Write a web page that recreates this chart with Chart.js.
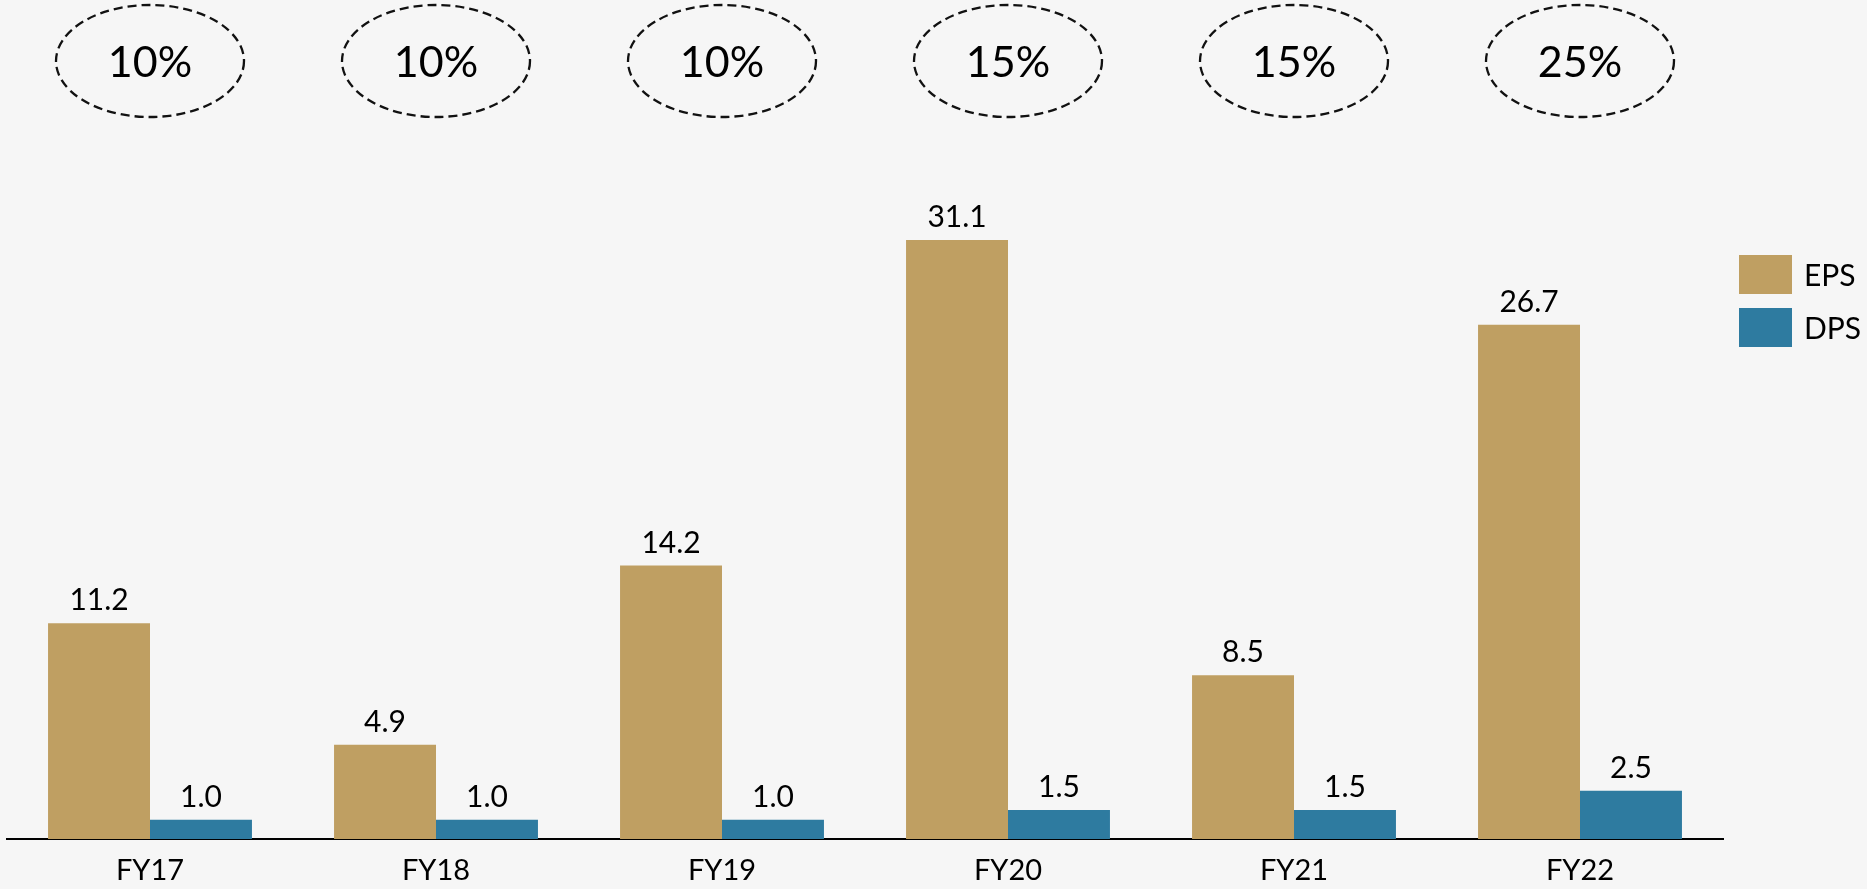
<!DOCTYPE html>
<html>
<head>
<meta charset="utf-8">
<title>EPS / DPS</title>
<script src="https://cdn.jsdelivr.net/npm/chart.js@4.4.1/dist/chart.umd.min.js"></script>
<style>
  html, body { margin: 0; padding: 0; background: #f6f6f6; }
  canvas { display: block; }
</style>
</head>
<body>
<canvas id="grafico" width="1867" height="889"></canvas>
<script>
const anni = ['FY17', 'FY18', 'FY19', 'FY20', 'FY21', 'FY22'];
const eps = [11.2, 4.9, 14.2, 31.1, 8.5, 26.7];
const dps = [1.0, 1.0, 1.0, 1.5, 1.5, 2.5];
const payout = [10, 10, 10, 15, 15, 25]; // dividendo in % (ellissi in alto)

const coloreEps = '#bf9f62';
const coloreDps = '#2e7ba0';
const font = 'Lato, "Open Sans", sans-serif';

// valori sopra le barre
const etichetteBarre = {
    id: 'etichetteBarre',
    afterDatasetsDraw(chart) {
        const { ctx } = chart;
        ctx.save();
        ctx.font = '30px ' + font;
        ctx.fillStyle = '#000';
        ctx.textAlign = 'center';
        ctx.textBaseline = 'alphabetic';
        chart.data.datasets.forEach((ds, i) => {
            chart.getDatasetMeta(i).data.forEach((bar, j) => {
                ctx.fillText(ds.data[j].toFixed(1), bar.x, bar.y - 13);
            });
        });
        ctx.restore();
    }
};

// ellissi tratteggiate con la percentuale, centrate sulla categoria
const ellissi = {
    id: 'ellissi',
    afterDraw(chart) {
        const { ctx } = chart;
        const x = chart.scales.x;
        ctx.save();
        payout.forEach((p, i) => {
            const cx = x.getPixelForValue(i);
            const cy = 61;
            ctx.beginPath();
            ctx.setLineDash([9, 5]);
            ctx.lineWidth = 2.3;
            ctx.strokeStyle = '#111';
            ctx.ellipse(cx, cy, 94, 56, 0, 0, Math.PI * 2);
            ctx.stroke();
            ctx.setLineDash([]);
            ctx.font = '43px ' + font;
            ctx.fillStyle = '#000';
            ctx.textAlign = 'center';
            ctx.textBaseline = 'alphabetic';
            ctx.fillText(p + '%', cx, cy + 16);
        });
        ctx.restore();
    }
};

// legenda a destra
const legenda = {
    id: 'legenda',
    afterDraw(chart) {
        const { ctx } = chart;
        ctx.save();
        ctx.font = '30px ' + font;
        ctx.textBaseline = 'middle';
        ctx.textAlign = 'left';
        chart.data.datasets.forEach((ds, i) => {
            const y = 255 + i * 53;
            ctx.fillStyle = ds.backgroundColor;
            ctx.fillRect(1739, y, 53, 39);
            ctx.fillStyle = '#000';
            ctx.fillText(ds.label, 1804, y + 21);
        });
        ctx.restore();
    }
};

new Chart(document.getElementById('grafico'), {
    type: 'bar',
    data: {
        labels: anni,
        datasets: [
            { label: 'EPS', data: eps, backgroundColor: coloreEps },
            { label: 'DPS', data: dps, backgroundColor: coloreDps }
        ]
    },
    options: {
        responsive: false,
        animation: false,
        layout: { padding: { left: 7, right: 144, top: 165, bottom: 0 } },
        datasets: {
            bar: { categoryPercentage: 0.713, barPercentage: 1, borderWidth: 0 }
        },
        scales: {
            x: {
                grid: { display: false, drawTicks: false },
                border: { display: true, color: '#000', width: 2 },
                ticks: { color: '#000', font: { family: font, size: 29 }, padding: 14 },
                afterFit(scale) { scale.height = 50; }
            },
            y: {
                display: false,
                min: 0,
                max: 35
            }
        },
        plugins: {
            legend: { display: false },
            tooltip: { enabled: false }
        }
    },
    plugins: [etichetteBarre, ellissi, legenda]
});
</script>
</body>
</html>
